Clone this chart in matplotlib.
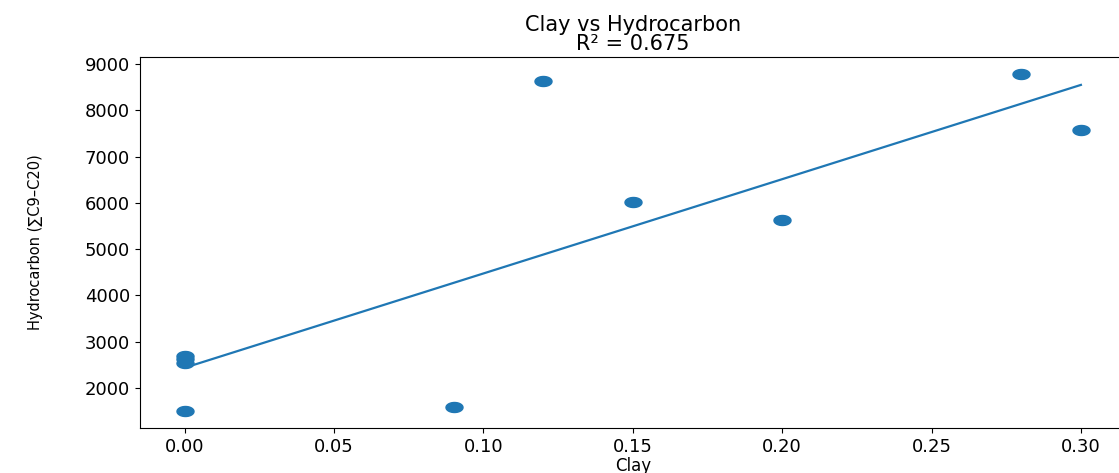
import numpy as np
import matplotlib.pyplot as plt
from matplotlib.path import Path

# clay fraction vs total hydrocarbons (sum C9-C20)
clay = [0.0, 0.0, 0.0, 0.0, 0.09, 0.12, 0.15, 0.20, 0.28, 0.30]
hydrocarbon = [2700, 2620, 2550, 1500, 1590, 8625, 6020, 5630, 8790, 7570]

x = np.array(clay)
y = np.array(hydrocarbon)

slope, intercept = np.polyfit(x, y, 1)
fit = slope * x + intercept
r2 = 1 - np.sum((y - fit) ** 2) / np.sum((y - y.mean()) ** 2)

# wide elliptical dot
t = np.linspace(0, 2 * np.pi, 60)
ellipse = Path(np.column_stack([1.7 * np.cos(t), np.sin(t)]), closed=True)

fig = plt.figure(figsize=(11.19, 4.73), dpi=100)
ax = fig.add_axes([0.125, 0.095, 0.881, 0.785])

ax.scatter(x, y, marker=ellipse, s=150, color='#1f77b4')
order = np.argsort(x)
ax.plot(x[order], fit[order], color='#1f77b4', linewidth=1.6)

ax.set_title(f'Clay vs Hydrocarbon\nR\u00b2 = {r2:.3f}', fontsize=15, linespacing=0.95, pad=5)
ax.set_xlabel('Clay', fontsize=12, labelpad=1)
ax.set_ylabel('Hydrocarbon (\u2211C9\u2013C20)', fontsize=10.5, labelpad=30)
ax.tick_params(labelsize=13)
ax.set_yticks([2000, 3000, 4000, 5000, 6000, 7000, 8000, 9000])

fig.savefig('out.png', dpi=100)
